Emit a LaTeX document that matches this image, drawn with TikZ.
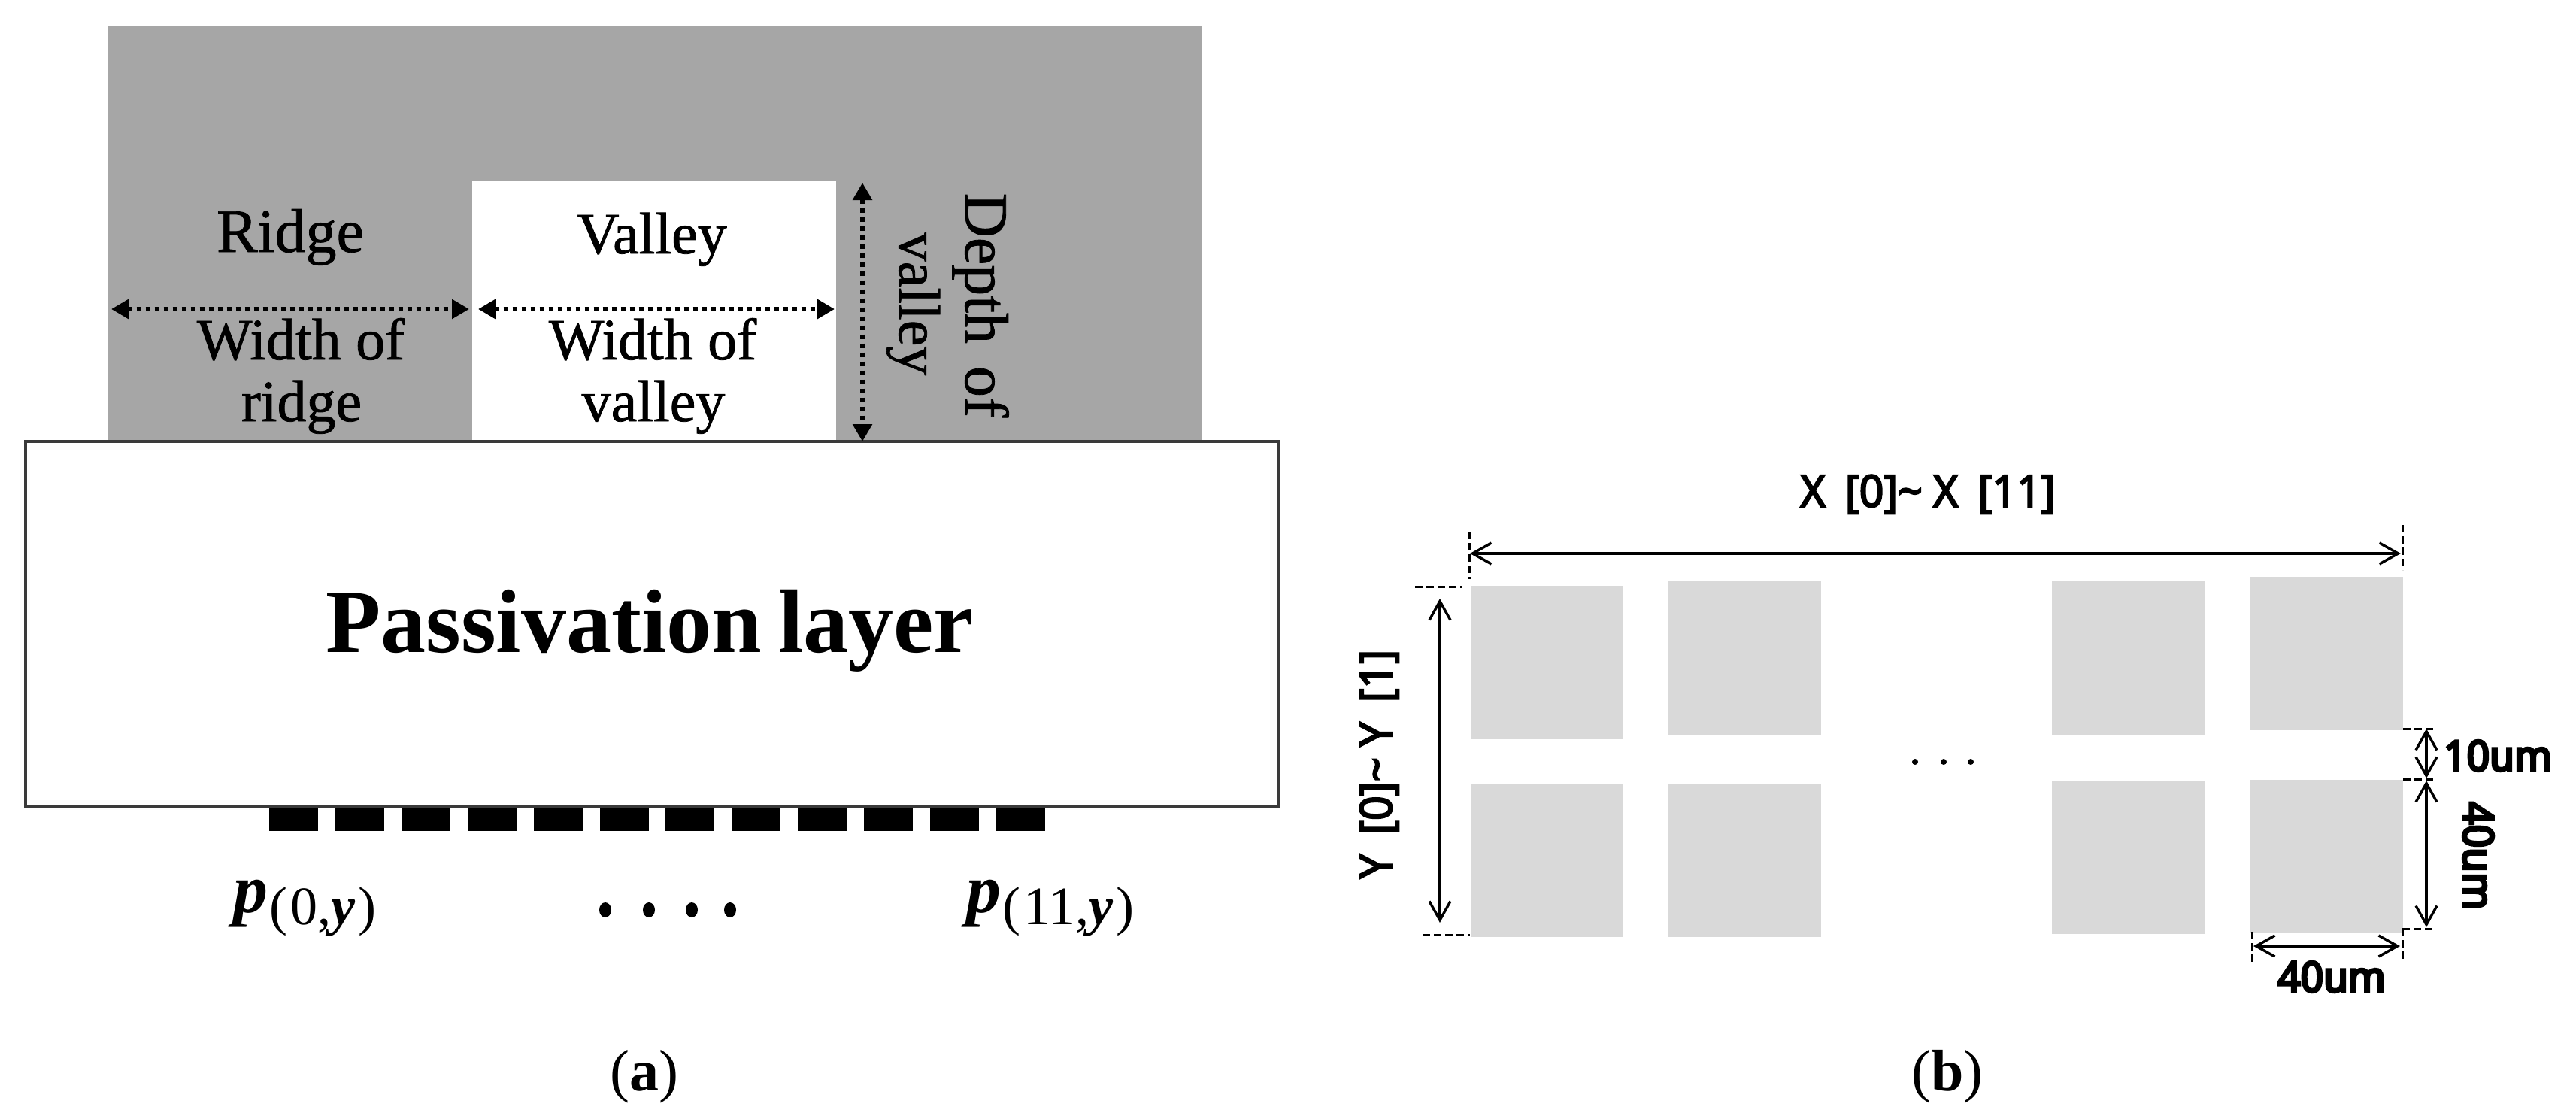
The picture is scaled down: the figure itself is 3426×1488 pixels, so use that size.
\documentclass[tikz,border=0pt]{standalone}
\usepackage{fontspec}
\setmainfont{Liberation Serif}
\newfontfamily\serm[FakeBold=1]{Liberation Serif}
\newfontfamily\sansm[FakeBold=3.5,FakeStretch=0.97]{Noto Sans}
\newfontfamily\sansb[FakeBold=6,FakeStretch=0.95]{Noto Sans}
\usetikzlibrary{arrows.meta}
\definecolor{ridgegray}{HTML}{A6A6A6}
\definecolor{tilegray}{HTML}{D9D9D9}
\definecolor{edgegray}{HTML}{3A3A3A}
\tikzset{
  ser/.style={inner sep=0pt,anchor=base,font=\serm\fontsize{39}{41}\selectfont},
  serb/.style={inner sep=0pt,anchor=base,font=\serm\fontsize{41}{43}\selectfont},
  dimm/.style={inner sep=0pt,anchor=base,font=\sansm\fontsize{29.5}{32}\selectfont},
  dimb/.style={inner sep=0pt,anchor=base,font=\sansb\fontsize{28}{30}\selectfont},
  sublab/.style={inner sep=0pt,anchor=base west,font=\fontsize{46}{48}\selectfont},
  figcap/.style={inner sep=0pt,anchor=base,font=\fontsize{39}{41}\selectfont},
  tile/.style={fill=tilegray,inner sep=0pt,minimum width=101.5pt,minimum height=102pt},
  pad/.style={fill=black,inner sep=0pt,minimum width=32.5pt,minimum height=15pt},
  dotarrow/.style={line width=3pt,dash pattern=on 3pt off 3pt,
    {Triangle[length=11.5pt,width=12.5pt]}-{Triangle[length=11.5pt,width=12.5pt]}},
  barb/.style={line width=1.8pt,black,{Straight Barb[length=12.5pt,width=14pt,line width=1.7pt]}-{Straight Barb[length=12.5pt,width=14pt,line width=1.7pt]}},
  ticktk/.style={line width=1.5pt,dash pattern=on 5pt off 2.5pt},
}
\newcommand{\plabel}[3]{\node[sublab] (#1) at (#2,1213) {{\bfseries\itshape p}\raisebox{-8pt}{\fontsize{36}{38}\selectfont\hspace{1pt}(\hspace{2pt}#3,{\bfseries\itshape y}\hspace{2pt})}};}
\begin{document}
\begin{tikzpicture}[x=0.5pt,y=-0.5pt]
\useasboundingbox (0,0) rectangle (3426,1488);
\fill[white] (0,0) rectangle (3426,1488);
% (a) structure
\fill[ridgegray] (144,35) rectangle (1598,587);
\fill[white] (628,241) rectangle (1112,587);
\node[draw=edgegray,line width=2pt,fill=white,inner sep=0pt,minimum width=833pt,minimum height=243pt] (passiv) at (867,830) {};
\foreach \i in {0,...,11}{
  \node[pad] (pad\i) at ({390.5+87.9*\i},1090) {};
}
\node[serb] (ridge) at (386,335) {Ridge};
\node[ser] (valley) at (867,337) {Valley};
\node[ser] (wridge1) at (400,478) {Width of};
\node[ser] (wridge2) at (401,560) {ridge};
\node[ser] (wvalley1) at (868,478) {Width of};
\node[ser] (wvalley2) at (869,560) {valley};
\node[serb,rotate=-90] (depth1) at (1284,406) {Depth\hspace{15pt}of};
\node[ser,rotate=-90] (depth2) at (1196,404) {valley};
\coordinate (rl) at (148,411); \coordinate (rr) at (624,411);
\coordinate (vl) at (636,411); \coordinate (vr) at (1110,411);
\coordinate (dt) at (1147,243); \coordinate (db) at (1147,587);
\draw[dotarrow] (rl) -- (rr);
\draw[dotarrow] (vl) -- (vr);
\draw[dotarrow] (dt) -- (db);
\node[inner sep=0pt,anchor=base,font=\bfseries\fontsize{60}{62}\selectfont] (plabel) at (864,867) {Passivation\hspace{-4pt} layer};
\plabel{p0}{310}{0}
\plabel{p11}{1285}{11}
\foreach \i/\x in {0/805,1/863,2/920,3/971}{
  \fill (\x,1210) ellipse [x radius=8,y radius=10];
}
\node[figcap] (capa) at (857,1450) {(\textbf{a})};
% (b) layout
\node[tile] (t1) at (2057,880.5) {};
\node[tile] (t2) at (2320.5,875) {};
\node[tile] (t3) at (2057,1144) {};
\node[tile] (t4) at (2320.5,1144) {};
\node[tile] (t5) at (2830.5,875) {};
\node[tile] (t6) at (3094,869) {};
\node[tile] (t7) at (2830.5,1140) {};
\node[tile] (t8) at (3094,1139) {};
\foreach \x in {2547,2585,2621}{ \fill (\x,1013) circle [radius=4]; }
\node[dimm] (xlab) at (2564,674) {X\hspace{13pt}[0]\textasciitilde\hspace{7pt}X\hspace{13pt}[11]};
\node[dimm,rotate=90] (ylab) at (1851,1016) {Y\hspace{13pt}[0]\textasciitilde\hspace{7pt}Y\hspace{13pt}[1]};
\node[dimb] (l10) at (3322,1025) {10um};
\node[dimb,rotate=-90] (l40v) at (3276,1138) {40um};
\node[dimb] (l40h) at (3101,1319) {40um};
% dimension lines
\coordinate (xa) at (1955,736); \coordinate (xb) at (3193,736);
\draw[barb] (xa) -- (xb);
\coordinate (xa1) at (1954,707); \coordinate (xa2) at (1954,770);
\draw[ticktk] (xa1) -- (xa2);
\coordinate (xb1) at (3195,698); \coordinate (xb2) at (3195,758);
\draw[ticktk] (xb1) -- (xb2);
\coordinate (ya) at (1915,796); \coordinate (yb) at (1915,1227);
\draw[barb] (ya) -- (yb);
\coordinate (ya1) at (1882,780); \coordinate (ya2) at (1944,780);
\draw[ticktk] (ya1) -- (ya2);
\coordinate (yb1) at (1892,1243); \coordinate (yb2) at (1955,1243);
\draw[ticktk] (yb1) -- (yb2);
\coordinate (g1) at (3227,969); \coordinate (g2) at (3227,1035);
\draw[barb] (g1) -- (g2);
\coordinate (g3) at (3227,1038); \coordinate (g4) at (3227,1233);
\draw[barb] (g3) -- (g4);
\coordinate (d1a) at (3196,969); \coordinate (d1b) at (3240,969);
\draw[ticktk] (d1a) -- (d1b);
\coordinate (d2a) at (3196,1036); \coordinate (d2b) at (3238,1036);
\draw[ticktk] (d2a) -- (d2b);
\coordinate (d3a) at (3195,1235); \coordinate (d3b) at (3238,1235);
\draw[ticktk] (d3a) -- (d3b);
\coordinate (wa) at (2997,1258); \coordinate (wb) at (3192,1258);
\draw[barb] (wa) -- (wb);
\coordinate (w1a) at (2995,1239); \coordinate (w1b) at (2995,1279);
\draw[ticktk] (w1a) -- (w1b);
\coordinate (w2a) at (3195,1235); \coordinate (w2b) at (3195,1279);
\draw[ticktk] (w2a) -- (w2b);
\node[figcap] (capb) at (2590,1450) {(\textbf{b})};
\end{tikzpicture}
\end{document}
